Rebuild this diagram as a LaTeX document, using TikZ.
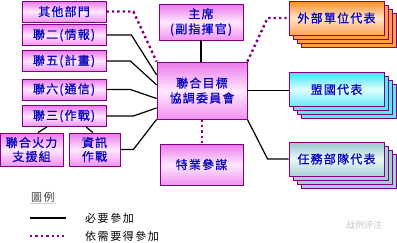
\documentclass[tikz,border=0pt]{standalone}
\usepackage{fontspec}
\newfontfamily\cjk[LetterSpace=10, FakeBold=0.6]{Noto Sans CJK TC}
\newfontfamily\cjkleg[LetterSpace=14]{Noto Sans CJK TC}
\newfontfamily\cjksc{Noto Sans CJK SC}
\definecolor{boxpurple}{RGB}{128, 0, 128}
\definecolor{txtblue}{RGB}{0, 0, 190}
\definecolor{pinktop}{RGB}{236, 120, 236}
\definecolor{pinkmid}{RGB}{255, 232, 255}
\definecolor{orngtop}{RGB}{255, 140, 40}
\definecolor{orngmid}{RGB}{255, 228, 200}
\definecolor{cyantop}{RGB}{60, 228, 240}
\definecolor{cyanmid}{RGB}{225, 255, 255}
\definecolor{tealtop}{RGB}{150, 198, 205}
\definecolor{tealmid}{RGB}{236, 248, 248}
\usetikzlibrary{positioning, calc}

\begin{document}
\begin{tikzpicture}[x=1pt, y=-1pt,
  box/.style={draw=boxpurple, line width=0.8pt, inner sep=1pt, font=\cjk\fontsize{12}{15}\selectfont, text=txtblue, align=center},
  pinkbox/.style={box, top color=pinktop, bottom color=pinktop!80, middle color=pinkmid},
  layer/.style={draw=boxpurple, line width=0.8pt, minimum width=95pt, minimum height=34pt},
  must/.style={line width=1.2pt, draw=black},
  opt/.style={line width=2.4pt, draw=boxpurple, dash pattern=on 2.4pt off 3pt},
  legtext/.style={font=\cjkleg\fontsize{11}{13}\selectfont, anchor=west, inner sep=1pt}
]
  \useasboundingbox (0,0) rectangle (397,242);

  % left column
  \node[pinkbox, minimum width=84pt, minimum height=21pt] (other) at (64, 11.5) {其他部門};
  \node[pinkbox, minimum width=84pt, minimum height=21pt] (j2) at (64, 35) {聯二(情報)};
  \node[pinkbox, minimum width=84pt, minimum height=21pt] (j5) at (64, 61) {聯五(計畫)};
  \node[pinkbox, minimum width=84pt, minimum height=21pt] (j6) at (64, 89.5) {聯六(通信)};
  \node[pinkbox, minimum width=84pt, minimum height=21pt] (j3) at (64, 116) {聯三(作戰)};
  \node[pinkbox, minimum width=63pt, minimum height=33pt, font=\cjk\fontsize{12}{14}\selectfont] (fires) at (31.5, 149.5) {聯合火力\\支援組};
  \node[pinkbox, minimum width=51pt, minimum height=33pt, font=\cjk\fontsize{12}{14}\selectfont] (info) at (94.5, 149.5) {資訊\\作戰};

  % centre column
  \node[pinkbox, minimum width=84pt, minimum height=36pt] (chair) at (201, 22) {主席\\(副指揮官)};
  \node[pinkbox, minimum width=90pt, minimum height=57pt] (jtcb) at (202, 90.5) {聯合目標\\協調委員會};
  \node[pinkbox, minimum width=83pt, minimum height=41pt] (spec) at (201.5, 164.5) {特業參謀};

  % right column, stacked
  \foreach \n/\y/\c in {ext/18/orngtop, ally/89.5/cyantop, tf/159/tealtop}
    \foreach \k in {3,2,1}
      \node[layer, fill=\c!85] (\n\k) at (336.5+4*\k, \y+4*\k) {};
  \node[box, minimum width=95pt, minimum height=34pt, top color=orngtop, bottom color=orngtop!80, middle color=orngmid] (ext) at (336.5, 18) {外部單位代表};
  \node[box, minimum width=95pt, minimum height=34pt, top color=cyantop, bottom color=cyantop!80, middle color=cyanmid] (ally) at (336.5, 89.5) {盟國代表};
  \node[box, minimum width=95pt, minimum height=34pt, top color=tealtop, bottom color=tealtop!80, middle color=tealmid] (tf) at (336.5, 159) {任務部隊代表};

  % connectors
  \draw[opt] (other.east) -- ++(27,0) -- (jtcb.north west);
  \draw[must] (j2.east) -- ++(25,0) -- (jtcb.161);
  \draw[must] (j5.east) -- ++(24,0) -- (jtcb.173);
  \draw[must] (j6.east) -- ++(24,0) -- (jtcb.190);
  \draw[must] (j3.east) -- ++(27,0) -- (jtcb.201);
  \draw[must] (info.east) -- ++(13,0) -- (jtcb.south west);
  \draw[must] ($(j3.south west)!0.3!(j3.south east)$) -- ($(fires.north west)!0.6!(fires.north east)$);
  \draw[must] ($(j3.south west)!0.76!(j3.south east)$) -- ($(info.north west)!0.47!(info.north east)$);
  \draw[must] (chair.south) -- (chair.south |- jtcb.north);
  \draw[opt] (jtcb.south) -- (jtcb.south |- spec.north);
  \draw[opt] (jtcb.north east) -- ($(ext.west)+(-21,0)$) -- (ext.west);
  \draw[must] (jtcb.east) -- (jtcb.east -| ally.west);
  \draw[must] (jtcb.south east) -- ($(tf.west)+(-21,0)$) -- (tf.west);

  % legend
  \node[legtext, text=black!75] (legend) at (30, 197) {圖例};
  \draw[gray!35, line width=1.5pt] (legend.south west) -- (legend.south east);
  \coordinate (l1a) at (30, 218);
  \coordinate (l1b) at (66, 218);
  \coordinate (l2a) at (30, 236);
  \coordinate (l2b) at (64, 236);
  \draw[must] (l1a) -- (l1b);
  \draw[opt] (l2a) -- (l2b);
  \node[legtext] (need) at (84, 218) {必要參加};
  \node[legtext] (maybe) at (84, 236) {依需要得參加};

  \node[font=\cjksc\fontsize{9}{11}\selectfont, text=gray!45, anchor=west, inner sep=0pt] (mark) at (346, 225) {战例评注};
\end{tikzpicture}
\end{document}
